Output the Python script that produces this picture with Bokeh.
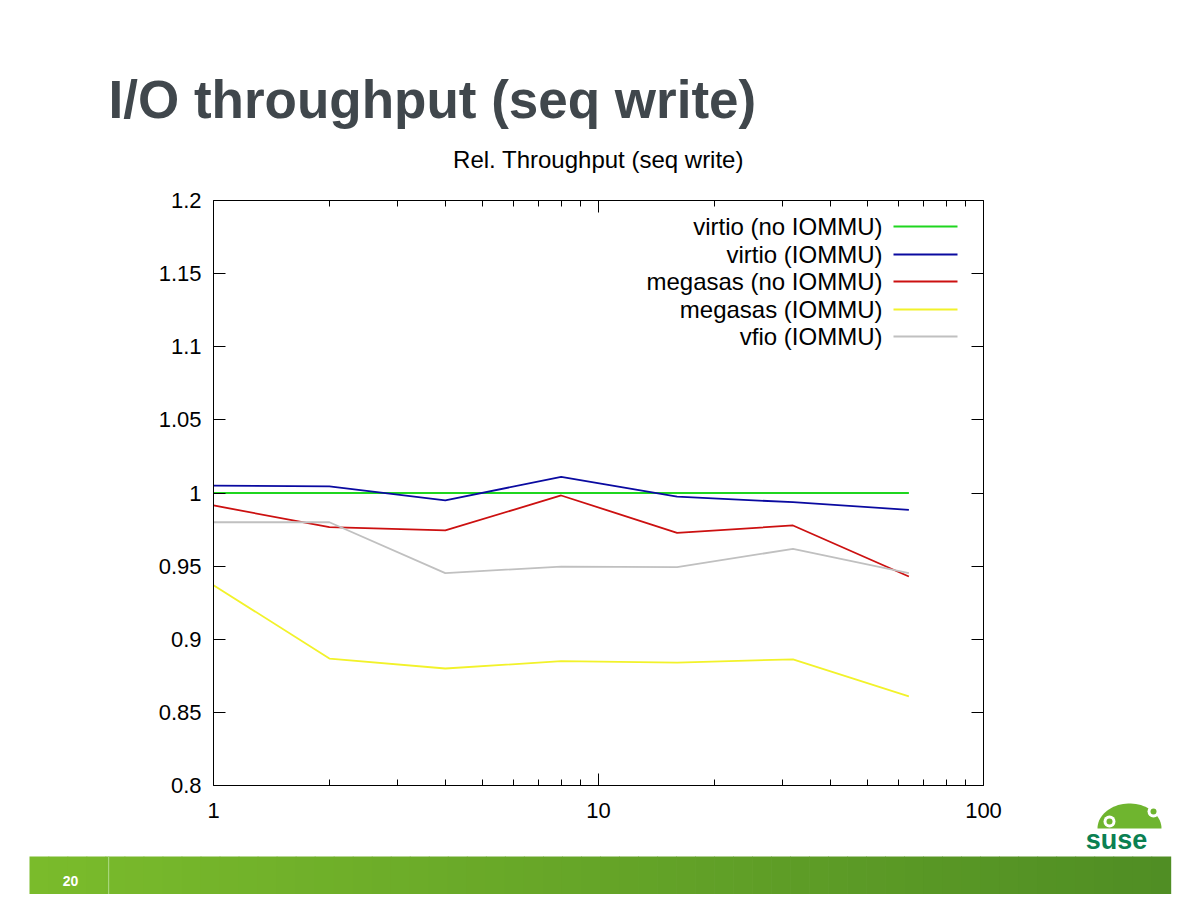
import numpy as np
from bokeh.plotting import figure
from bokeh.models import (Range1d, FixedTicker, LinearAxis, LogAxis, LinearScale,
                          BasicTickFormatter)
from bokeh.core.properties import value
from bokeh.embed import file_html
from bokeh.resources import INLINE

# ---------------- data ----------------
slide_title = "I/O throughput (seq write)"
chart_title = "Rel. Throughput (seq write)"
page_number = "20"
logo_text = "suse"

threads = [1, 2, 4, 8, 16, 32, 64]
virtio_no_iommu = [1.0, 1.0, 1.0, 1.0, 1.0, 1.0, 1.0]
virtio_iommu = [1.005, 1.0045, 0.995, 1.011, 0.9975, 0.9937, 0.9885]
megasas_no_iommu = [0.9915, 0.9766, 0.9744, 0.9983, 0.9728, 0.9778, 0.9429]
megasas_iommu = [0.937, 0.8868, 0.880, 0.885, 0.884, 0.8863, 0.861]
vfio_iommu = [0.980, 0.980, 0.9452, 0.9497, 0.9493, 0.9618, 0.9452]

series_names = ["virtio (no IOMMU)", "virtio (IOMMU)", "megasas (no IOMMU)",
                "megasas (IOMMU)", "vfio (IOMMU)"]
series_values = [virtio_no_iommu, virtio_iommu, megasas_no_iommu,
                 megasas_iommu, vfio_iommu]
series_colors = ["#1fd61f", "#0a0aa0", "#cc1010", "#f2f22a", "#c0c0c0"]

x_min, x_max = 1, 100
y_min, y_max = 0.8, 1.2
x_major_ticks = [1, 10, 100]
x_minor_ticks = [2, 3, 4, 5, 6, 7, 8, 9, 20, 30, 40, 50, 60, 70, 80, 90]
x_tick_labels = ["1", "10", "100"]
y_ticks = [0.8, 0.85, 0.9, 0.95, 1.0, 1.05, 1.1, 1.15, 1.2]
y_tick_labels = ["0.8", "0.85", "0.9", "0.95", "1", "1.05", "1.1", "1.15", "1.2"]

# ---------------- page geometry (pixels) ----------------
W, H = 1190, 894
BOX_L, BOX_T, BOX_R, BOX_B = 213, 200, 983, 785
FONT = "Liberation Sans"

# the frame covers the whole canvas; data ranges are widened so that the
# data box (1..100, 0.8..1.2) lands on the chart box of the slide
dec = (np.log10(x_max) - np.log10(x_min)) / (BOX_R - BOX_L)
xr = Range1d(10 ** (np.log10(x_min) - BOX_L * dec), 10 ** (np.log10(x_max) + (W - BOX_R) * dec))
ys = (y_max - y_min) / (BOX_B - BOX_T)
yr = Range1d(y_min - (H - BOX_B) * ys, y_max + BOX_T * ys)

p = figure(width=W, height=H, x_axis_type="log", x_range=xr, y_range=yr,
           output_backend="svg", toolbar_location=None, min_border=0)
p.background_fill_color = "white"
p.border_fill_color = "white"
p.outline_line_color = None
p.grid.visible = False

# page coordinate system for slide decorations
p.extra_x_ranges = {"page": Range1d(0, W)}
p.extra_x_scales = {"page": LinearScale()}
p.extra_y_ranges = {"page": Range1d(H, 0)}
p.extra_y_scales = {"page": LinearScale()}
PG = dict(x_range_name="page", y_range_name="page")


def style_axis(ax, labels=True):
    ax.axis_line_color = "black"
    ax.major_tick_line_color = "black"
    ax.minor_tick_line_color = "black"
    ax.major_tick_out = 0
    ax.minor_tick_out = 0
    ax.major_tick_in = 12
    ax.minor_tick_in = 6
    ax.major_label_text_font = FONT
    ax.major_label_text_font_size = "22px"
    if labels:
        ax.major_label_text_color = "black"
    else:
        ax.major_label_text_color = None
        ax.major_label_standoff = 0


xa = p.xaxis[0]
xa.ticker = FixedTicker(ticks=x_major_ticks, minor_ticks=x_minor_ticks)
xa.formatter = BasicTickFormatter()
xa.major_label_overrides = {float(k): v for k, v in zip(x_major_ticks, x_tick_labels)}
style_axis(xa)
xa.major_label_standoff = 17
xa.fixed_location = y_min
xa.bounds = (x_min, x_max)

ya = p.yaxis[0]
ya.ticker = FixedTicker(ticks=y_ticks)
ya.major_label_overrides = {float(k): v for k, v in zip(y_ticks, y_tick_labels)}
style_axis(ya)
ya.major_label_standoff = 12
ya.fixed_location = x_min
ya.bounds = (y_min, y_max)

top_ax = LogAxis(ticker=FixedTicker(ticks=x_major_ticks, minor_ticks=x_minor_ticks),
                 fixed_location=y_max, bounds=(x_min, x_max))
style_axis(top_ax, labels=False)
p.add_layout(top_ax, "above")

right_ax = LinearAxis(ticker=FixedTicker(ticks=y_ticks), fixed_location=x_max,
                      bounds=(y_min, y_max))
style_axis(right_ax, labels=False)
p.add_layout(right_ax, "right")

# ---------------- series ----------------
for name, vals, col in zip(series_names, series_values, series_colors):
    p.line(threads, vals, line_color=col, line_width=1.8)

# ---------------- titles ----------------
p.text(x=[108], y=[99], text=[slide_title], text_align="left",
       text_baseline="alphabetic", text_font=value(FONT), text_font_size="53px",
       text_font_style="bold", text_color="#40474c", **PG)
p.text(x=[(BOX_L + BOX_R) / 2], y=[159], text=[chart_title], text_align="center",
       text_baseline="alphabetic", text_font=value(FONT), text_font_size="24px",
       text_color="black", **PG)

# ---------------- legend (gnuplot style: text, then line sample) ----------------
leg_rows = [226, 254, 281, 309, 336]
p.text(x=[882] * len(series_names), y=leg_rows, text=series_names, text_align="right",
       text_baseline="middle", text_font=value(FONT), text_font_size="24px",
       text_color="black", **PG)
p.segment(x0=[893] * len(series_names), x1=[957] * len(series_names),
          y0=leg_rows, y1=leg_rows, line_color=series_colors, line_width=1.8, **PG)

# ---------------- SUSE logo (simplified) ----------------
theta = np.linspace(0, np.pi, 40)
cx, cy, rx, ry_ = 1129, 828, 32, 25
p.patch(x=list(cx + rx * np.cos(theta)), y=list(cy - ry_ * np.sin(theta)),
        fill_color="#6fb52f", line_color=None, **PG)
p.circle(x=[1109, 1153], y=[821, 811], radius=6, fill_color="white", line_color=None, **PG)
p.circle(x=[1109, 1153], y=[821, 811], radius=3, fill_color="#6fb52f", line_color=None, **PG)
p.text(x=[1116], y=[839], text=[logo_text], text_align="center",
       text_baseline="alphabetic", text_font=value(FONT), text_font_size="27px",
       text_font_style="bold", text_color="#0b8052", **PG)

# ---------------- footer bar ----------------
bar_l, bar_r, bar_t, bar_b = 29, 1170, 856, H
c0 = np.array([123, 188, 44])
c1 = np.array([80, 142, 36])
n_strips = 60
edges = np.linspace(bar_l, bar_r, n_strips + 1)
cols = []
for i in range(n_strips):
    t = (i + 0.5) / n_strips
    c = (c0 * (1 - t) + c1 * t).astype(int)
    cols.append("#%02x%02x%02x" % tuple(c))
p.quad(left=list(edges[:-1]), right=list(edges[1:] + 0.7), top=bar_t, bottom=bar_b,
       fill_color=cols, line_color=None, **PG)
p.quad(left=[107.5], right=[108.7], top=bar_t, bottom=bar_b,
       fill_color="#a6d679", line_color=None, **PG)
p.text(x=[70], y=[880], text=[page_number], text_align="center",
       text_baseline="middle", text_font=value(FONT), text_font_size="14px",
       text_font_style="bold", text_color="white", **PG)

open("out.html", "w").write(file_html(p, INLINE))
